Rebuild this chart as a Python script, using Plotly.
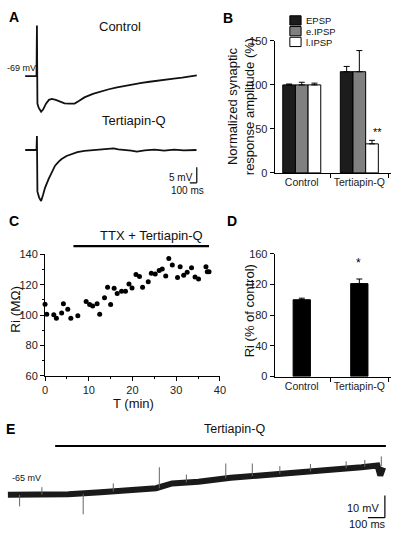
import plotly.graph_objects as go

W, H = 397, 538
def px(x): return x / W
def py(y): return 1 - y / H

FONT = "Arial, 'Liberation Sans', sans-serif"

# ---------------- Panel A: evoked responses (ms, mV) ----------------
a_ctrl_t = [-168, -6, 0, 7, 25, 60, 88, 130, 172, 214, 270, 326, 396, 466, 540, 606, 680,
            802, 914, 1030, 1148, 1260, 1380, 1500, 1614, 1730, 1848, 1960, 2080, 2190, 2290]
a_ctrl_v = [-69.0, -69.0, -52.8, -77.8, -79.1, -80.4, -79.7, -77.8, -76.6, -76.3, -76.6, -77.2,
            -77.7, -77.8, -77.8, -76.9, -75.8, -74.7, -73.9, -73.2, -72.6, -72.1, -71.6, -71.2,
            -70.8, -70.4, -70.0, -69.8, -69.5, -69.2, -68.8]
a_tq_t = [-168, -6, 0, 7, 32, 60, 88, 116, 168, 214, 260, 312, 354, 424, 494, 578, 680, 774,
          914, 1012, 1100, 1166, 1264, 1350, 1432, 1544, 1684, 1824, 1964, 2104, 2286]
a_tq_v = [-69.0, -69.0, -64.5, -82.3, -84.2, -85.3, -83.3, -81.1, -78.2, -75.8, -74.0, -72.7,
          -71.9, -70.9, -70.4, -69.7, -69.3, -69.1, -68.9, -68.8, -68.5, -68.8, -68.9, -69.2,
          -69.5, -69.1, -68.9, -69.2, -68.9, -69.1, -69.0]
a_scale_ms, a_scale_mv = 100, 5

# ---------------- Panel B: normalized amplitudes ----------------
b_groups = ["Control", "Tertiapin-Q"]
b_names = ["EPSP", "e.IPSP", "l.IPSP"]
b_vals = [[100, 115], [100, 115], [100, 33]]
b_errs = [[1, 6], [3, 24], [2, 4]]
b_colors = ["#1c1c1c", "#808080", "#ffffff"]
b_ticks = [0, 50, 100, 150]

# ---------------- Panel C: Ri over time ----------------
c_t = [0, 0.4, 2.0, 2.6, 3.8, 4.2, 5.2, 5.9, 7.5, 9.4, 10.2, 10.9, 11.9, 12.5, 13.6, 14.3,
       15.0, 15.8, 16.5, 17.5, 18.4, 19.2, 19.9, 20.8, 21.6, 22.3, 23.6, 24.3, 25.2, 26.1,
       26.8, 27.6, 28.3, 29.1, 30.3, 30.9, 31.7, 32.5, 33.5, 34.3, 35.1, 36.8, 37.1, 37.5]
c_ri = [107.1, 100.6, 100.2, 97.9, 101.3, 107.5, 103.9, 98.0, 99.6, 109.0, 107.0, 106.0,
        107.5, 100.6, 111.4, 118.3, 107.0, 117.6, 114.2, 115.7, 115.7, 120.4, 117.9, 126.7,
        125.4, 118.3, 121.9, 127.5, 127.1, 129.3, 130.3, 125.8, 137.2, 132.9, 124.7, 131.8,
        126.2, 128.2, 131.2, 125.0, 123.7, 131.8, 128.6, 128.6]
c_drug = [6.5, 37.5]

# ---------------- Panel D: Ri % of control ----------------
d_cats = ["Control", "Tertiapin-Q"]
d_vals = [100, 121]
d_errs = [2, 6]
d_ticks = [0, 40, 80, 120, 160]

# ---------------- Panel E: long recording (ms, mV) ----------------
e_t = [0, 355, 546, 736, 872, 966, 1121, 1311, 1505, 1696, 1886, 2080, 2174, 2191, 2208]
e_v = [-65.0, -64.7, -63.8, -62.8, -62.0, -59.8, -59.1, -57.3, -56.2, -55.0, -53.5, -52.5,
       -51.7, -56.2, -52.6]
e_spike_t = [69, 443, 891, 1282, 1438, 2197, 200, 620, 1050, 1600, 1780, 1990, 2100]
e_spike_base = [-65.0, -64.5, -62.0, -57.5, -56.5, -52.0, -64.9, -63.5, -59.4, -55.6, -54.4, -53.0, -52.3]
e_spike_tip = [-70.2, -73.8, -52.5, -50.8, -50.8, -47.6, -61.5, -59.8, -55.8, -52.0, -51.0, -49.8, -49.2]
e_drug = [278, 2224]
e_scale_ms, e_scale_mv = 100, 10

fig = go.Figure()

# A traces
fig.add_trace(go.Scatter(x=a_ctrl_t, y=a_ctrl_v, mode="lines", line=dict(color="#111", width=1.8),
                         xaxis="x", yaxis="y", showlegend=False))
fig.add_trace(go.Scatter(x=a_tq_t, y=a_tq_v, mode="lines", line=dict(color="#111", width=1.8),
                         xaxis="x2", yaxis="y2", showlegend=False))

# B bars
bw = 0.22
offs = [-1.5 * bw, -0.5 * bw, 0.5 * bw]
for i in range(3):
    fig.add_trace(go.Bar(x=b_groups, y=b_vals[i], name=b_names[i], width=bw, offset=offs[i],
                         marker=dict(color=b_colors[i], line=dict(color="black", width=1)),
                         error_y=dict(type="data", array=b_errs[i], arrayminus=[0, 0],
                                      color="black", thickness=1, width=3),
                         xaxis="x3", yaxis="y3", showlegend=False))

# C scatter
fig.add_trace(go.Scatter(x=c_t, y=c_ri, mode="markers", marker=dict(color="black", size=5),
                         cliponaxis=False, xaxis="x4", yaxis="y4", showlegend=False))

# D bars
fig.add_trace(go.Bar(x=d_cats, y=d_vals, width=0.3, offset=-0.15,
                     marker=dict(color="black", line=dict(color="black", width=1)),
                     error_y=dict(type="data", array=d_errs, arrayminus=[0, 0],
                                  color="black", thickness=1, width=3),
                     xaxis="x5", yaxis="y5", showlegend=False))

# E trace
fig.add_trace(go.Scatter(x=e_t, y=e_v, mode="lines", line=dict(color="#1a1a1a", width=6),
                         xaxis="x6", yaxis="y6", showlegend=False))
sx, sy = [], []
for t, b, tip in zip(e_spike_t, e_spike_base, e_spike_tip):
    sx += [t, t, None]
    sy += [b, tip, None]
fig.add_trace(go.Scatter(x=sx, y=sy, mode="lines", line=dict(color="#666", width=1),
                         xaxis="x6", yaxis="y6", showlegend=False))

hidden = dict(visible=False, showgrid=False, zeroline=False)
axstyle = dict(showline=True, linecolor="black", linewidth=1, ticks="outside", ticklen=4,
               tickcolor="black", tickwidth=1, showgrid=False, zeroline=False,
               tickfont=dict(size=11, color="#222"))
catstyle = {**axstyle, "tickfont": dict(size=10.5, color="#222"), "tickangle": 0}

fig.update_layout(
    width=W, height=H, margin=dict(l=0, r=0, t=0, b=0),
    paper_bgcolor="white", plot_bgcolor="white",
    font=dict(family=FONT, color="#111"),
    barmode="overlay", hovermode=False,
    xaxis=dict(domain=[px(0), px(200)], range=[-486, 2314], anchor="y", **hidden),
    yaxis=dict(domain=[py(115), py(10)], range=[-82.53, -49.72], anchor="x", **hidden),
    xaxis2=dict(domain=[px(0), px(200)], range=[-486, 2314], anchor="y2", **hidden),
    yaxis2=dict(domain=[py(205), py(125)], range=[-87.03, -62.03], anchor="x2", **hidden),
    xaxis3=dict(domain=[px(278), px(397)], type="category", range=[-0.47, 1.55], anchor="y3",
                tickson="boundaries", **catstyle),
    yaxis3=dict(domain=[py(170.7), py(35.7)], range=[0, 150], tickvals=b_ticks, anchor="x3",
                **axstyle),
    xaxis4=dict(domain=[px(43), px(222)], range=[0, 40], dtick=10, anchor="y4",
                minor=dict(dtick=5, ticks="outside", ticklen=2.5, tickcolor="black"), **axstyle),
    yaxis4=dict(domain=[py(378.3), py(254)], range=[60, 140], dtick=20, anchor="x4",
                minor=dict(dtick=10, ticks="outside", ticklen=2.5, tickcolor="black"), **axstyle),
    xaxis5=dict(domain=[px(278), px(397)], type="category", range=[-0.47, 1.55], anchor="y5",
                tickson="boundaries", **catstyle),
    yaxis5=dict(domain=[py(379), py(253.3)], range=[0, 160], tickvals=d_ticks, anchor="x5",
                **axstyle),
    xaxis6=dict(domain=[0, 1], range=[-28.75, 2254], anchor="y6", **hidden),
    yaxis6=dict(domain=[py(538), py(420)], range=[-81.8, -29.6], anchor="x6", **hidden),
)

shapes = []
# A scale bar (on tertiapin axis)
a_cx, a_cy = 2290, -79.5
shapes.append(dict(type="line", xref="x2", yref="y2", x0=a_cx - a_scale_ms, x1=a_cx, y0=a_cy, y1=a_cy,
                   line=dict(color="black", width=1.2)))
shapes.append(dict(type="line", xref="x2", yref="y2", x0=a_cx, x1=a_cx, y0=a_cy, y1=a_cy + a_scale_mv,
                   line=dict(color="black", width=1.2)))
# E scale bar
e_cx, e_cy = 2218, -75.3
shapes.append(dict(type="line", xref="x6", yref="y6", x0=e_cx - e_scale_ms, x1=e_cx, y0=e_cy, y1=e_cy,
                   line=dict(color="black", width=1.2)))
shapes.append(dict(type="line", xref="x6", yref="y6", x0=e_cx, x1=e_cx, y0=e_cy, y1=e_cy + e_scale_mv,
                   line=dict(color="black", width=1.2)))
# drug bars
shapes.append(dict(type="line", xref="x4", yref="paper", x0=c_drug[0], x1=c_drug[1],
                   y0=py(245.7), y1=py(245.7), line=dict(color="black", width=2.2)))
shapes.append(dict(type="line", xref="x6", yref="paper", x0=e_drug[0], x1=e_drug[1],
                   y0=py(450), y1=py(450), line=dict(color="black", width=2)))
# B legend squares
leg_y = [(10, 19.5), (21, 30.5), (32, 41.5)]
for (y0, y1), c in zip(leg_y, b_colors):
    shapes.append(dict(type="rect", xref="paper", yref="paper", x0=px(293.5), x1=px(305),
                       y0=py(y1), y1=py(y0), fillcolor=c, line=dict(color="black", width=1)))
fig.update_layout(shapes=shapes)

anns = []
def ann(text, x, y, size, xa="center", ya="middle", bold=False, angle=0, color="#111", height=None):
    d = dict(text=f"<b>{text}</b>" if bold else text, x=px(x), y=py(y), xref="paper",
             yref="paper", showarrow=False, xanchor=xa, yanchor=ya, textangle=angle,
             font=dict(size=size, color=color, family=FONT))
    if height:
        d["height"] = height
    anns.append(d)

for letter, x, y in [("A", 11, 11), ("B", 230, 12.5), ("C", 11, 220), ("D", 234, 220), ("E", 8, 433)]:
    ann(letter, x, y, 14, bold=True, color="black")

ann("Control", 120, 21, 13)
ann("Tertiapin-Q", 134, 117, 13)
ann("-69 mV", 2, 63, 9, xa="left")
ann("5 mV", 196, 175, 10, xa="right")
ann("100 ms", 189, 189, 10)
for (y0, y1), n in zip(leg_y, b_names):
    ann(n, 307.5, (y0 + y1) / 2, 9.5, xa="left", height=10)
ann("Normalized synaptic<br>response amplitude (%)", 243, 103, 13, angle=-90)
ann("**", 383, 129, 11, color="black")
ann("TTX + Tertiapin-Q", 152, 235, 13)
ann("Ri (MΩ)", 12, 310, 13.5, angle=-90)
ann("T (min)", 134, 407, 13)
ann("Ri (% of control)", 252, 312, 13, angle=-90)
ann("*", 364, 263, 12, color="black")
ann("Tertiapin-Q", 237, 433, 12.5)
ann("-65 mV", 7, 483, 9, xa="left")
ann("10 mV", 368, 513, 11)
ann("100 ms", 373, 530, 11)
fig.update_layout(annotations=anns)

fig.write_html("out.html", config={"displayModeBar": False, "staticPlot": True},
               post_script="document.body.style.margin='0';document.body.style.overflow='hidden';")
